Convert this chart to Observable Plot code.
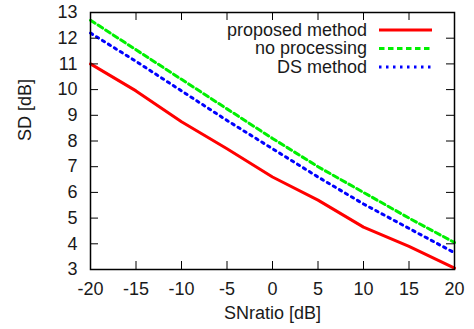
<!DOCTYPE html>
<html><head><meta charset="utf-8">
<script src="https://cdn.jsdelivr.net/npm/d3@7"></script>
<script src="https://cdn.jsdelivr.net/npm/@observablehq/plot@0.6"></script>
<style>body{margin:0;background:#fff}</style>
</head><body><div id="chart"></div>
<script>
// ---- data ----
const snr = [-20, -15, -10, -5, 0, 5, 10, 15, 20];
const proposed = [11.0, 9.95, 8.75, 7.7, 6.6, 5.7, 4.65, 3.9, 3.05];
const noProcessing = [12.7, 11.55, 10.4, 9.25, 8.1, 7.0, 6.0, 5.0, 4.05];
const dsMethod = [12.2, 11.1, 9.95, 8.8, 7.7, 6.6, 5.55, 4.6, 3.65];
const seriesNames = ["proposed method", "no processing", "DS method"];
const xTicks = [-20, -15, -10, -5, 0, 5, 10, 15, 20];
const yTicks = [3, 4, 5, 6, 7, 8, 9, 10, 11, 12, 13];
const xLabel = "SNratio [dB]";
const yLabel = "SD [dB]";

// ---- styles ----
const styles = [
  {stroke: "#ff0000", strokeDasharray: null},
  {stroke: "#00f000", strokeDasharray: "5.5,3.5"},
  {stroke: "#0000ff", strokeDasharray: "2.5,4.5"}
];
const seriesValues = [proposed, noProcessing, dsMethod];
const series = seriesNames.map((name, i) => ({
  name, ...styles[i],
  rows: snr.map((x, j) => ({x, y: seriesValues[i][j]}))
}));

const W = 474, H = 329;
const mL = 90, mR = 20, mT = 12, mB = 60;
const plotW = W - mL - mR, plotH = H - mT - mB;
const tickLen = 8;
const innerX = xTicks.slice(1, -1), innerY = yTicks.slice(1, -1);
const textColor = "#1a1a1a";
const fontFamily = "'Liberation Sans', Arial, Helvetica, sans-serif";

function legend(index, scales, values, dimensions) {
  const g = d3.create("svg:g")
    .attr("font-family", fontFamily)
    .attr("font-size", 18);
  const right = dimensions.width - dimensions.marginRight;
  const top = dimensions.marginTop;
  series.forEach((s, i) => {
    const y = top + 18 + i * 18.5;
    g.append("text").attr("x", right - 87).attr("y", y).attr("dy", "0.32em")
      .attr("text-anchor", "end").attr("fill", textColor).text(s.name);
    const l = g.append("line").attr("x1", right - 75).attr("x2", right - 22)
      .attr("y1", y).attr("y2", y).attr("stroke", s.stroke).attr("stroke-width", 3);
    if (s.strokeDasharray) l.attr("stroke-dasharray", s.strokeDasharray);
  });
  return g.node();
}

const fmt = d => String(d);

const chart = Plot.plot({
  width: W, height: H,
  marginLeft: mL, marginRight: mR, marginTop: mT, marginBottom: mB,
  style: {fontSize: "18px", fontFamily, color: textColor, background: "#fff"},
  x: {domain: [-20, 20]},
  y: {domain: [3, 13]},
  marks: [
    ...series.map(s => Plot.line(s.rows, {x: "x", y: "y", stroke: s.stroke, strokeWidth: 3, strokeDasharray: s.strokeDasharray, strokeLinejoin: "round"})),
    Plot.ruleX(innerX, {stroke: "#000", strokeWidth: 1, insetTop: plotH - tickLen}),
    Plot.ruleX(innerX, {stroke: "#000", strokeWidth: 1, insetBottom: plotH - tickLen}),
    Plot.ruleY(innerY, {stroke: "#000", strokeWidth: 1, insetRight: plotW - tickLen}),
    Plot.ruleY(innerY, {stroke: "#000", strokeWidth: 1, insetLeft: plotW - tickLen}),
    Plot.frame({stroke: "#000", strokeWidth: 1.5}),
    Plot.axisX({ticks: xTicks, tickFormat: fmt, tickSize: 0, tickPadding: 13, label: null, fill: textColor}),
    Plot.axisY({ticks: yTicks, tickFormat: fmt, tickSize: 0, tickPadding: 13, label: null, fill: textColor}),
    Plot.text([xLabel], {frameAnchor: "bottom", dy: 44, lineAnchor: "middle", fill: textColor}),
    Plot.text([yLabel], {frameAnchor: "left", dx: -65, rotate: -90, lineAnchor: "middle", fill: textColor}),
    legend
  ]
});
document.getElementById("chart").appendChild(chart);
</script>
</body></html>
